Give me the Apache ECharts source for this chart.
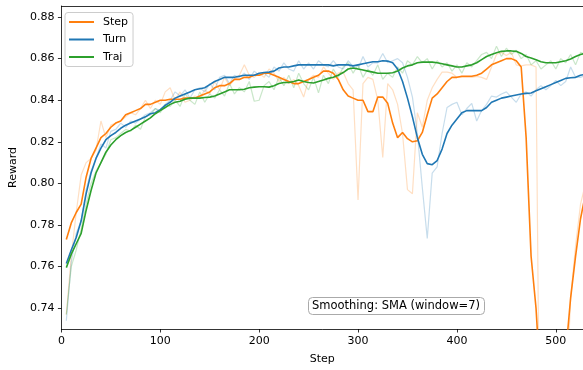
<!DOCTYPE html>
<html>
<head>
<meta charset="utf-8">
<script src="https://cdn.jsdelivr.net/npm/echarts@6/dist/echarts.min.js"></script>
<style>
  html, body { margin: 0; padding: 0; background: #fff; }
  #chart { width: 583px; height: 370px; }
</style>
</head>
<body>
<div id="chart"></div>
<script>
const steps = [
  5, 10, 15, 20, 25, 30, 35, 40, 45, 50,
  55, 60, 65, 70, 75, 80, 85, 90, 95, 100,
  105, 110, 115, 120, 125, 130, 135, 140, 145, 150,
  155, 160, 165, 170, 175, 180, 185, 190, 195, 200,
  205, 210, 215, 220, 225, 230, 235, 240, 245, 250,
  255, 260, 265, 270, 275, 280, 285, 290, 295, 300,
  305, 310, 315, 320, 325, 330, 335, 340, 345, 350,
  355, 360, 365, 370, 375, 380, 385, 390, 395, 400,
  405, 410, 415, 420, 425, 430, 435, 440, 445, 450,
  455, 460, 465, 470, 475, 480, 485, 490, 495, 500,
  505, 510, 515, 520, 525, 530,
];

// raw rewards (faint lines)
const stepRaw = [
  .737, .765, .786, .804, .810, .812, .816, .830, .822, .828,
  .829, .830, .832, .834, .833, .836, .840, .836, .840, .838,
  .844, .846, .840, .844, .839, .840, .842, .841, .845, .843,
  .849, .845, .851, .847, .850, .852, .857, .852, .851, .853,
  .851, .855, .853, .849, .851, .848, .850, .847, .8415, .850,
  .852, .851, .856, .853, .850, .853, .8535, .848, .845, .792,
  .848, .851, .850, .840, .8125, .848, .845, .838, .824, .797,
  .795, .834, .827, .840, .846, .850, .8535, .8535, .853, .851,
  .851, .851, .851, .8515, .851, .850, .856, .862, .863, .8615,
  .863, .857, .8565, .857, .857, .856, .600, .580, .590, .600,
  .620, .690, .745, .770, .790, .800,
];
const turnRaw = [
  .734, .762, .776, .782, .797, .806, .812, .819, .817, .825,
  .826, .829, .827, .830, .829, .831, .833, .834, .836, .835,
  .838, .840, .844, .842, .845, .841, .845, .846, .844, .848,
  .845, .851, .852, .848, .852, .851, .853, .850, .854, .852,
  .853, .851, .856, .854, .858, .855, .854, .859, .855, .858,
  .855, .859, .857, .856, .859, .856, .855, .859, .856, .855,
  .861, .856, .858, .858, .8625, .858, .859, .860, .858, .851,
  .8415, .824, .798, .7735, .805, .808, .824, .8365, .838, .839,
  .833, .836, .8385, .830, .835, .838, .842, .8415, .843, .844,
  .8415, .839, .843, .844, .842, .845, .847, .845, .847, .8495,
  .847, .849, .856, .851, .851, .852,
];
const trajRaw = [
  .737, .760, .768, .778, .790, .800, .806, .810, .814, .821,
  .822, .824, .826, .825, .828, .826, .832, .833, .836, .834,
  .838, .837, .840, .837, .843, .840, .838, .844, .839, .843,
  .841, .845, .842, .848, .843, .846, .844, .849, .8395, .840,
  .847, .849, .845, .851, .847, .852, .846, .853, .848, .845,
  .851, .8435, .852, .848, .855, .851, .856, .858, .853, .857,
  .851, .855, .852, .857, .850, .853, .851, .856, .853, .859,
  .857, .861, .858, .860, .855, .859, .856, .858, .854, .857,
  .853, .858, .856, .859, .862, .863, .860, .866, .861, .865,
  .862, .864, .860, .862, .857, .859, .855, .857, .859, .855,
  .860, .858, .862, .857, .863, .862,
];

// SMA (window=7) curves
const stepSma = [
  .773, .781, .786, .790, .803, .812, .817, .822, .824, .827,
  .829, .830, .833, .834, .835, .836, .838, .838, .839, .840,
  .840, .8405, .8405, .8405, .841, .841, .841, .842, .843, .844,
  .846, .847, .847, .848, .850, .850, .851, .851, .852, .852,
  .853, .853, .852, .851, .850, .849, .848, .848, .849, .850,
  .851, .852, .854, .854, .853, .850, .845, .842, .841, .840,
  .840, .8345, .8345, .8415, .8415, .8385, .829, .822, .8245, .8215,
  .820, .8205, .8245, .833, .841, .843, .846, .849, .851, .851,
  .8515, .8515, .8515, .852, .853, .855, .857, .858, .859, .860,
  .860, .859, .856, .822, .765, .740, .700, .690, .685, .690,
  .700, .718, .745, .765, .783, .795,
];
const turnSma = [
  .7615, .768, .774, .782, .795, .805, .812, .817, .821, .823,
  .8245, .8265, .828, .829, .830, .831, .832, .8335, .834, .8355,
  .8375, .839, .841, .842, .843, .844, .845, .8455, .846, .8475,
  .849, .850, .851, .851, .851, .8515, .852, .852, .852, .853,
  .8533, .8535, .854, .8555, .856, .856, .8565, .857, .857, .857,
  .857, .857, .857, .857, .8565, .857, .857, .857, .8565, .857,
  .8575, .858, .8585, .8585, .859, .8588, .858, .855, .849, .841,
  .832, .822, .814, .8095, .809, .811, .8165, .824, .828, .831,
  .834, .835, .835, .835, .835, .8365, .839, .840, .841, .8415,
  .842, .8425, .843, .8433, .8435, .8445, .8455, .8465, .8475, .8485,
  .8495, .8505, .8508, .851, .852, .8525,
];
const trajSma = [
  .7595, .766, .771, .776, .787, .7966, .805, .810, .815, .8185,
  .821, .823, .8245, .8255, .827, .8285, .830, .8315, .8335, .835,
  .8365, .838, .839, .8395, .8405, .841, .841, .841, .8413, .8415,
  .842, .843, .844, .845, .845, .845, .8453, .846, .8463, .8465,
  .8465, .8463, .847, .848, .8485, .8485, .849, .8497, .849, .8485,
  .8483, .849, .8497, .8505, .851, .852, .8533, .855, .8555, .855,
  .8545, .854, .8535, .853, .853, .853, .8532, .854, .8555, .8565,
  .857, .858, .8583, .8583, .8583, .858, .8575, .857, .8565, .856,
  .856, .8565, .857, .858, .8595, .861, .862, .8628, .8635, .8637,
  .8637, .8635, .8625, .861, .8603, .8595, .8585, .858, .858, .858,
  .8585, .859, .8598, .861, .862, .8625,
];

const xTicks = [0, 100, 200, 300, 400, 500];
const yTicks = [0.74, 0.76, 0.78, 0.80, 0.82, 0.84, 0.86, 0.88];

const FONT = "DejaVu Sans";
const colors = { Step: "#ff7f0e", Turn: "#1f77b4", Traj: "#2ca02c" };

const pairs = (arr) => steps.map((s, i) => [s, arr[i]]);

const rawLine = (name, arr) => ({
  name: name + " raw",
  type: "line",
  data: pairs(arr),
  showSymbol: false,
  silent: true,
  z: 1,
  lineStyle: { width: 1.2, color: colors[name], opacity: 0.25 },
  itemStyle: { color: colors[name] },
});
const smaLine = (name, arr, z) => ({
  name,
  type: "line",
  data: pairs(arr),
  showSymbol: false,
  silent: true,
  z,
  lineStyle: { width: 1.6, color: colors[name] },
  itemStyle: { color: colors[name] },
});

const chart = echarts.init(document.getElementById("chart"), null, { renderer: "canvas" });
chart.setOption({
  animation: false,
  textStyle: { fontFamily: FONT },
  grid: { left: 59, right: 0, top: 6, bottom: 41 },
  title: {
    text: "Smoothing: SMA (window=7)",
    left: 308,
    top: 297,
    padding: [3, 5, 3, 4],
    borderColor: "#aaa",
    borderWidth: 1,
    borderRadius: 4,
    backgroundColor: "#fff",
    textStyle: { fontFamily: FONT, fontSize: 11.5, fontWeight: "normal", color: "#000", lineHeight: 12 },
  },
  legend: {
    data: ["Step", "Turn", "Traj"],
    orient: "vertical",
    left: 65,
    top: 12.5,
    icon: "rect",
    itemWidth: 25,
    itemHeight: 2,
    itemGap: 4.5,
    padding: [3, 5, 3, 4],
    backgroundColor: "rgba(255,255,255,0.8)",
    borderColor: "#cccccc",
    borderWidth: 1,
    borderRadius: 3,
    textStyle: { fontFamily: FONT, fontSize: 11, color: "#000", lineHeight: 13, padding: [0, 0, 0, 4] },
  },
  xAxis: [
    {
      type: "value",
      min: 0,
      max: 527.5,
      name: "Step",
      nameLocation: "middle",
      nameGap: 25,
      nameTextStyle: { fontFamily: FONT, fontSize: 11, color: "#000" },
      axisLine: { lineStyle: { color: "#000", width: 0.8 } },
      axisTick: { length: 3.5, customValues: xTicks, lineStyle: { color: "#000", width: 0.8 } },
      axisLabel: { customValues: xTicks, margin: 7, fontFamily: FONT, fontSize: 11, color: "#000" },
      splitLine: { show: false },
    },
    {
      type: "value",
      position: "top",
      min: 0,
      max: 527.5,
      axisLine: { lineStyle: { color: "#000", width: 0.8 } },
      axisTick: { show: false },
      axisLabel: { show: false },
      splitLine: { show: false },
    },
  ],
  yAxis: {
    type: "value",
    min: 0.73,
    max: 0.8853,
    name: "Reward",
    nameLocation: "middle",
    nameGap: 38,
    nameTextStyle: { fontFamily: FONT, fontSize: 11, color: "#000" },
    axisLine: { show: true, lineStyle: { color: "#000", width: 0.8 } },
    axisTick: { show: true, length: 3.5, customValues: yTicks, lineStyle: { color: "#000", width: 0.8 } },
    axisLabel: {
      customValues: yTicks,
      margin: 7,
      fontFamily: FONT,
      fontSize: 11,
      color: "#000",
      formatter: (v) => v.toFixed(2),
    },
    splitLine: { show: false },
  },
  series: [
    rawLine("Step", stepRaw),
    rawLine("Turn", turnRaw),
    rawLine("Traj", trajRaw),
    smaLine("Step", stepSma, 3),
    smaLine("Turn", turnSma, 4),
    smaLine("Traj", trajSma, 5),
  ],
});
</script>
</body>
</html>
